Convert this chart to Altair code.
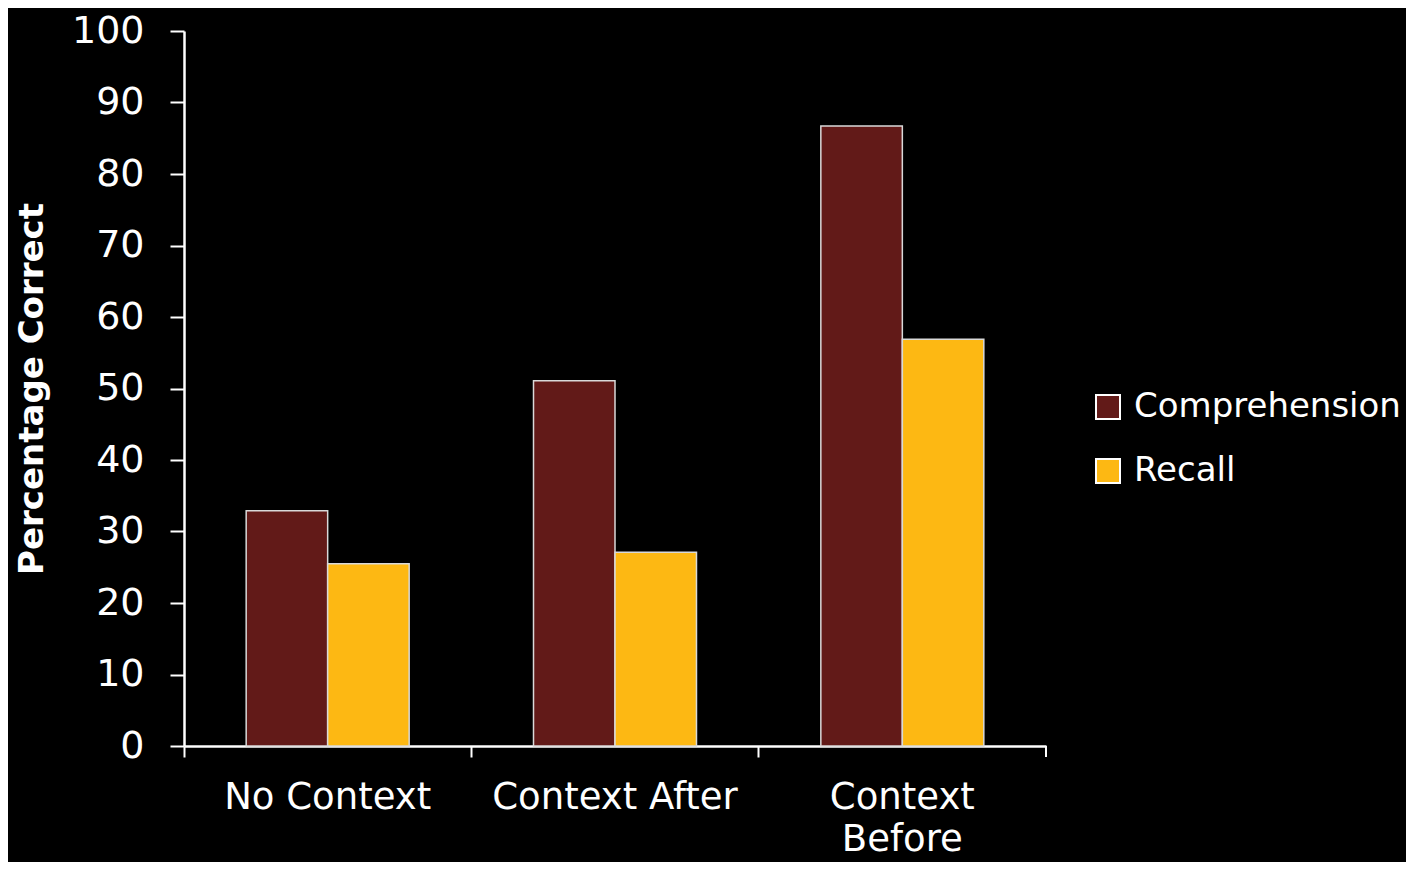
import altair as alt
import pandas as pd

conditions = ["No Context", "Context After", "Context Before"]
comprehension = [32.9, 51.1, 86.7]
recall = [25.5, 27.1, 56.9]
series = ["Comprehension", "Recall"]
colors = ["#621A18", "#FDB813"]

rows = []
for i, c in enumerate(conditions):
    rows.append({"condition": c, "series": "Comprehension", "value": comprehension[i]})
    rows.append({"condition": c, "series": "Recall", "value": recall[i]})
df = pd.DataFrame(rows)

FONT = "DejaVu Sans"
W, H = 862, 715

bars = alt.Chart(df).mark_bar(stroke="#d9d9d9", strokeWidth=1.5).encode(
    x=alt.X("condition:N", sort=conditions,
            scale=alt.Scale(paddingInner=0, paddingOuter=0),
            axis=alt.Axis(title=None, labelAngle=0, bandPosition=0,
                          labelExpr="datum.label == 'Context Before' ? ['Context', 'Before'] : datum.label",
                          labelFontSize=37, labelFont=FONT, labelColor="white", labelLimit=0,
                          labelPadding=22, tickSize=11, tickWidth=2, tickColor="white",
                          domainColor="white", domainWidth=2.5, labelLineHeight=42,
                          labelBaseline="top")),
    xOffset=alt.XOffset("series:N", sort=series,
                        scale=alt.Scale(paddingInner=0, paddingOuter=0.763)),
    y=alt.Y("value:Q", scale=alt.Scale(domain=[0, 100], nice=False),
            axis=alt.Axis(title="Percentage Correct", values=list(range(0, 101, 10)),
                          grid=False, labelFontSize=38, labelFont=FONT, labelColor="white",
                          labelPadding=26, tickSize=14, tickWidth=2, tickColor="white",
                          domainColor="white", domainWidth=2.5,
                          titleFont=FONT, titleFontSize=34, titleFontWeight="bold",
                          titleColor="white", titleX=-152, titleY=H / 2,
                          titleAngle=-90, titleAlign="center", titleBaseline="middle")),
    color=alt.Color("series:N", sort=series,
                    scale=alt.Scale(domain=series, range=colors),
                    legend=alt.Legend(title=None, orient="none", legendX=907, legendY=359,
                                      symbolType="square", symbolSize=576,
                                      symbolStrokeColor="white", symbolStrokeWidth=2,
                                      labelFontSize=34, labelFont=FONT, labelColor="white",
                                      labelLimit=0, labelOffset=9, rowPadding=30,
                                      symbolOpacity=1)),
)

end_tick = alt.Chart(df).mark_rule(color="white", strokeWidth=2).encode(
    x=alt.value(W), y=alt.value(H), y2=alt.value(H + 11)
)

chart = alt.layer(bars, end_tick).properties(
    width=W, height=H, background="black",
    padding={"left": 176, "top": 23, "right": 360, "bottom": 116},
    autosize=alt.AutoSizeParams(type="none"),
).configure_view(stroke=None)

chart.save("out.html", embed_options={"renderer": "svg", "actions": False})
